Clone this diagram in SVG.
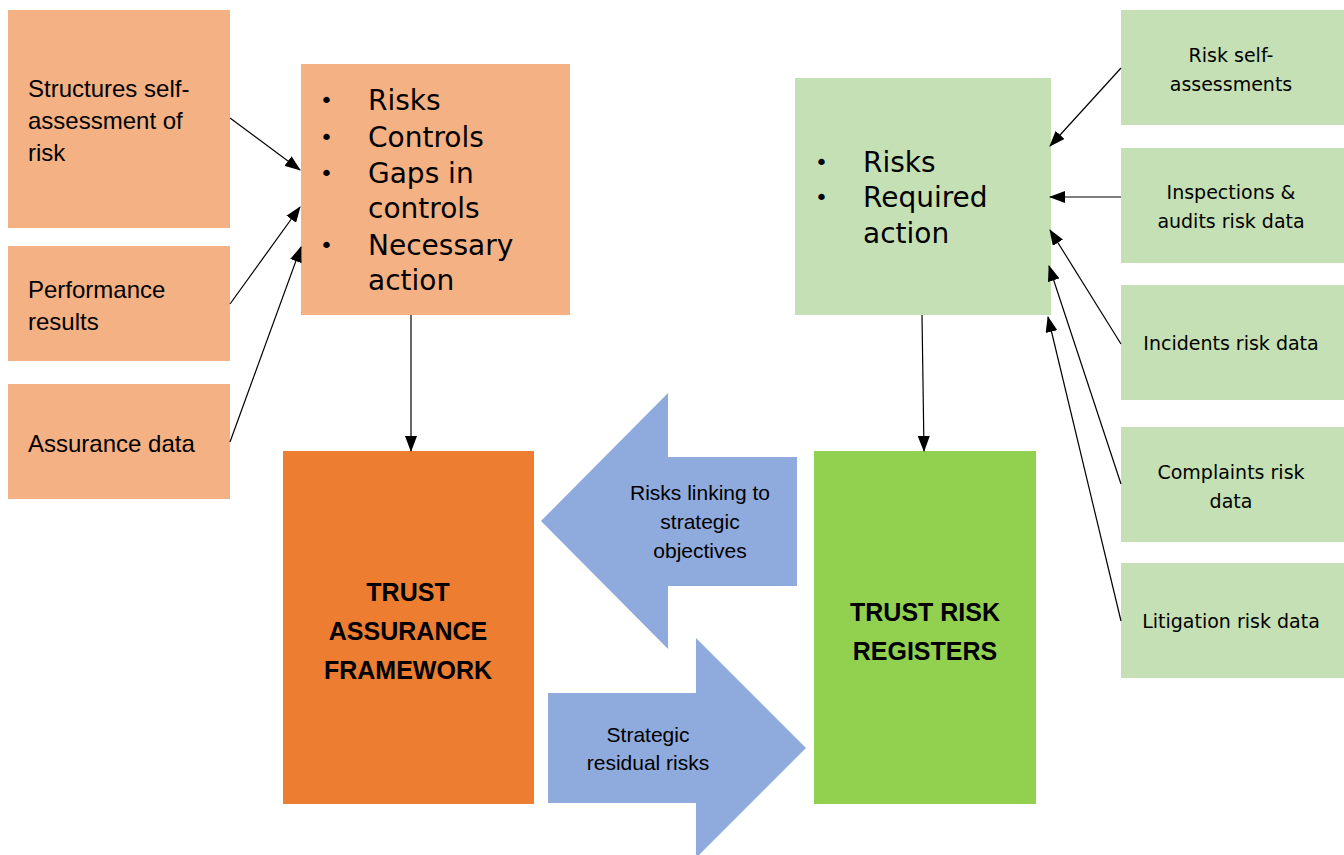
<svg xmlns="http://www.w3.org/2000/svg" width="1344" height="855" viewBox="0 0 1344 855">
<defs>
<marker id="ah" markerWidth="16" markerHeight="12" refX="15" refY="6" orient="auto" markerUnits="userSpaceOnUse">
<path d="M0,0 L16,6 L0,12 Z" fill="#000"/>
</marker>
<style>
.lo{fill:#F4B183}
.dko{fill:#ED7D31}
.lg{fill:#C5E0B4}
.dg{fill:#92D050}
.bl{fill:#8FAADC}
.t1{font-family:"Liberation Sans",Arial,sans-serif;font-size:24px;fill:#000}
.tb{font-family:"Liberation Sans",Arial,sans-serif;font-size:25px;font-weight:bold;fill:#000;text-anchor:middle}
.ta{font-family:"Liberation Sans",Arial,sans-serif;font-size:21px;fill:#000;text-anchor:middle}
.tv{font-family:"DejaVu Sans",Verdana,sans-serif;font-size:28px;fill:#000}
.bu{font-family:"DejaVu Sans",Verdana,sans-serif;font-size:22px;fill:#000}
.ts{font-family:"DejaVu Sans",Verdana,sans-serif;font-size:19px;fill:#000;text-anchor:middle}
.c{stroke:#000;stroke-width:1.2;fill:none;marker-end:url(#ah)}
</style>
</defs>
<rect width="1344" height="855" fill="#fff"/>

<g id="n-structures">
<rect class="lo" x="8" y="10" width="222" height="218"/>
<text class="t1" x="28" y="97">Structures self-</text>
<text class="t1" x="28" y="129">assessment of</text>
<text class="t1" x="28" y="161">risk</text>
</g>
<g id="n-performance">
<rect class="lo" x="8" y="246" width="222" height="115"/>
<text class="t1" x="28" y="298">Performance</text>
<text class="t1" x="28" y="330">results</text>
</g>
<g id="n-assurance-data">
<rect class="lo" x="8" y="384" width="222" height="115"/>
<text class="t1" x="28" y="452">Assurance data</text>
</g>
<g id="n-risks-controls">
<rect class="lo" x="301" y="64" width="269" height="251"/>
<text class="bu" x="320" y="108">•</text><text class="tv" x="368" y="110">Risks</text>
<text class="bu" x="320" y="145">•</text><text class="tv" x="368" y="147">Controls</text>
<text class="bu" x="320" y="181">•</text><text class="tv" x="368" y="183">Gaps in</text>
<text class="tv" x="368" y="218">controls</text>
<text class="bu" x="320" y="253">•</text><text class="tv" x="368" y="255">Necessary</text>
<text class="tv" x="368" y="290">action</text>
</g>
<g id="n-taf">
<rect class="dko" x="283" y="451" width="251" height="353"/>
<text class="tb" x="408" y="601">TRUST</text>
<text class="tb" x="408" y="640">ASSURANCE</text>
<text class="tb" x="408" y="679">FRAMEWORK</text>
</g>
<g id="n-risks-required">
<rect class="lg" x="795" y="78" width="256" height="237"/>
<text class="bu" x="815" y="170">•</text><text class="tv" x="863" y="172">Risks</text>
<text class="bu" x="815" y="205">•</text><text class="tv" x="863" y="207">Required</text>
<text class="tv" x="863" y="243">action</text>
</g>
<g id="n-trr">
<rect class="dg" x="814" y="451" width="222" height="353"/>
<text class="tb" x="925" y="621">TRUST RISK</text>
<text class="tb" x="925" y="660">REGISTERS</text>
</g>
<g id="n-risk-self">
<rect class="lg" x="1121" y="10" width="223" height="115"/>
<text class="ts" x="1231" y="62">Risk self-</text>
<text class="ts" x="1231" y="91">assessments</text>
</g>
<g id="n-inspections">
<rect class="lg" x="1121" y="148" width="223" height="115"/>
<text class="ts" x="1231" y="199">Inspections &amp;</text>
<text class="ts" x="1231" y="228">audits risk data</text>
</g>
<g id="n-incidents">
<rect class="lg" x="1121" y="285" width="223" height="115"/>
<text class="ts" x="1231" y="350">Incidents risk data</text>
</g>
<g id="n-complaints">
<rect class="lg" x="1121" y="427" width="223" height="115"/>
<text class="ts" x="1231" y="479">Complaints risk</text>
<text class="ts" x="1231" y="508">data</text>
</g>
<g id="n-litigation">
<rect class="lg" x="1121" y="563" width="223" height="115"/>
<text class="ts" x="1231" y="628">Litigation risk data</text>
</g>
<g id="n-arrow-left">
<polygon class="bl" points="541,521 668,393 668,457 797,457 797,586 668,586 668,649"/>
<text class="ta" x="700" y="500">Risks linking to</text>
<text class="ta" x="700" y="529">strategic</text>
<text class="ta" x="700" y="558">objectives</text>
</g>
<g id="n-arrow-right">
<polygon class="bl" points="548,693 696,693 696,638 806,748 696,858 696,803 548,803"/>
<text class="ta" x="648" y="742">Strategic</text>
<text class="ta" x="648" y="770">residual risks</text>
</g>

<g id="connectors">
<line class="c" x1="230" y1="118" x2="300" y2="170"/>
<line class="c" x1="230" y1="304" x2="300" y2="207"/>
<line class="c" x1="230" y1="442" x2="301" y2="247"/>
<line class="c" x1="411" y1="315" x2="411" y2="451"/>
<line class="c" x1="1121" y1="68" x2="1050" y2="146"/>
<line class="c" x1="1121" y1="197" x2="1050" y2="197"/>
<line class="c" x1="1121" y1="344" x2="1050" y2="230"/>
<line class="c" x1="1121" y1="484" x2="1049" y2="266"/>
<line class="c" x1="1121" y1="621" x2="1048" y2="317"/>
<line class="c" x1="922" y1="315" x2="924" y2="451"/>
</g>
</svg>
